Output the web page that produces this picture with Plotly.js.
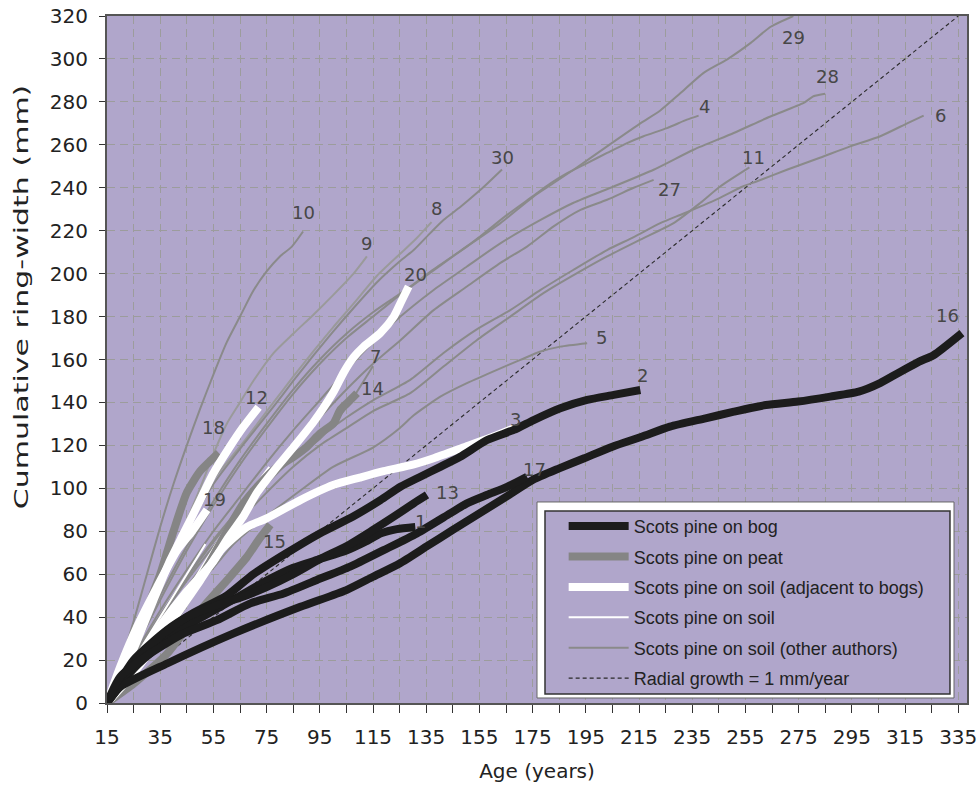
<!DOCTYPE html>
<html><head><meta charset="utf-8">
<script src="https://cdn.plot.ly/plotly-3.0.1.min.js"></script>
<style>html,body{margin:0;padding:0;background:#fff}#chart{width:977px;height:786px}</style>
</head><body><div id="chart"></div>
<script>
// ---------------- DATA (age in years, cumulative ring-width in mm) ----------------
// Scots pine on bog (black thick)
const bog1Age  = [15,25,35,45,55,65,75,85,95,105,112,118,124,130.9];
const bog1Mm   = [0,16,27,36,43,50,57,63,67,71,75,79,81,82];
const bog2Age  = [15,25,37.6,47.6,60,70,82.7,95,107.7,117.8,125.3,132.8,140.3,147.8,157.9,167.9,175.4,185.4,195.5,205.5,215.5];
const bog2Mm   = [0,20,34,42,50,60,70,79,87,94.5,100.7,105.4,110,114.7,122.5,127.2,131.8,137.3,141.2,143.5,145.8];
const bog13Age = [15,25,35,45,55,65,75,85,95,105,115,122.8,130.3,135.3];
const bog13Mm  = [0,18,31,40,45,49,54,60,67,73,80.6,86.8,93,96.9];
const bog16Age = [15,20,37.6,62.6,87.7,105,115,125,135,145,155,165,175,185,194.4,205,216,226.6,240,250.7,262.7,274.8,286.9,297.6,305.6,312.3,320.3,325.7,336.4];
const bog16Mm  = [0,7.5,18.4,32.4,44.8,52.6,58.8,65,72.8,80.6,88.3,96,103.9,109.3,114,119.4,124,128.7,132.6,135.7,138.8,140.4,142.7,145,149,153.6,159,162,172.3];
const bog17Age = [15,20,31.3,43.8,56.3,68.9,81.4,93.9,106.4,119,131.5,144,150.3,158,165.4,172.9];
const bog17Mm  = [0,12.2,23.1,32.4,38.6,46.4,51,57.3,63.5,71.2,79,88.3,93,97,100.7,105.4];
// Scots pine on peat (grey thick)
const peat14Age = [15,25,35,45,53.8,61.4,66.3,71.4,77.6,85.2,90.2,95.2,100.2,102.7,105.2,109];
const peat14Mm  = [0,15,30,48,66,83,93,100.7,108.5,114.7,119.4,125.6,130.3,136.5,139.6,144.3];
const peat15Age = [15,25,37.6,50,60,67.6,72,76.4];
const peat15Mm  = [0,9,23,43,57,68,76,83];
const peat18Age = [15,22.5,28.8,35,40,45,50,54,57];
const peat18Mm  = [0,20,40,60,80,98,108,113,116.5];
// Scots pine on soil adjacent to bogs (white thick)
const adj3Age  = [15,25,37.6,50,57.6,62.6,67.6,75,87.7,100,110,119,130,137.8,150,160,168];
const adj3Mm   = [0,14,35,57,71,77,82,86,94.5,101.5,105,108,111,114,119.5,124,128];
const adj12Age = [15,20,26.3,32.5,38.8,43.8,48.8,55,61,66.3,72];
const adj12Mm  = [0,11,29,48,66.6,79,91.4,107,119,128.7,137.8];
const adj19Age = [15,20,26.3,33.8,41.3,47,52.6];
const adj19Mm  = [0,17,35.5,54,71,80,90];
const adj20Age = [15,25,35,45,55,60,66.3,71.4,77.6,85,92.7,100.2,104,107.7,111.5,117.7,122.8,125.3,128.4];
const adj20Mm  = [0,18,36,52,66,76,87,98,108,119,131,145,154,161,166,172.3,180,186.2,194];
// Scots pine on soil (white thin)
const soilAAge = [15,25,35,45,55,62,70,76];
const soilAMm  = [0,14,32,52,72,86,100,110];
const soilBAge = [15,25,35,45,52];
const soilBMm  = [0,20,40,60,74];
// Scots pine on soil, other authors (grey thin)
const oth4Age  = [15,25,35,45,55,65,75,85,95,105,115,125,135,145,155,165,175,181.6,188,195.5,203,210.5,216.7,225.5,233,237.4];
const oth4Mm   = [0,24,48,71,92,111,128,144,158,170,180,190,199,208,217,227,236,242,246.8,251.5,256.2,260.8,264,267.8,271.7,273.6];
const oth5Age  = [15,25,35,45,55,62.6,75,87.7,100,115,125,130.3,140.3,150.3,161.6,170.4,178,185.4,195.5];
const oth5Mm   = [0,19,36,50,63,74,87,99,110,119,128,134,142.7,149,155.2,159.8,163.7,166,167.6];
const oth6Age  = [15,25,35,45,55,65,75,85,95,105,115,129,141.5,154,166.6,178,190.4,203,213,223,231.8,244,254,259.4,270.6,283,294.4,305.7,315.8,322];
const oth6Mm   = [0,20,39,57,73,88,102,114,124,133,141,150.5,163,174,183,192.4,201.8,211,217,223.5,228,234.5,240.6,243,248.4,254,259.3,264,270,273.6];
const oth7Age  = [15,25,35,45,55,65,75,85,95,100.2,107.7,115];
const oth7Mm   = [0,20,40,58,75,90,103,114,123,130,142.6,157];
const oth8Age  = [15,25,35,45,55,66,77.6,85,92.7,100,107.7,116.5,125,131,137];
const oth8Mm   = [0,28,56,82,104,121,140,152,164,175,186,199,209,216,224];
const oth9Age  = [15,25,35,45,50,55,60,65,70,77.6,85,92.7,100,107.7,112.7];
const oth9Mm   = [0,26,55,85,100,116,130,140,150,163,172,181,190,200,208];
const oth10Age = [15,20,25,30,35,40,45,50,55,60,65,70,75,80,84.5,88.7];
const oth10Mm  = [0,18,38,60,82,102,120,137,153,168,180,192,201,208,212.6,219.6];
const oth11Age = [15,25,35,45,55,65,75,85,95,105,115,129,141.5,154.1,166.6,179.2,191.7,203,215.5,228,238,245.5,256.5];
const oth11Mm  = [0,19,37,54,70,85,98,110,120,128,136,144.3,156.7,169.1,180,191,200.2,208,215.8,223.5,232.9,240.6,249.5];
const oth27Age = [15,25,35,45,55,65,75,85,95,105,115,125.3,137.8,150.3,162.9,172.9,182.9,193,203,213,220.5];
const oth27Mm  = [0,21,41,59,76,91,106,120,133,146,158,169,183,194,205,212.6,222,229.7,234.4,240,243.7];
const oth28Age = [15,25,35,45,55,65,75,85,95,105,115,125.3,137.8,150.3,163,178,190.4,205.5,220.5,235.5,250.6,264.4,276.9,280.6,285];
const oth28Mm  = [0,22,43,62,80,96,112,127,141,155,168,180,192.4,203.3,214.2,225,233,240.6,248.4,257.7,265.5,273.2,279.5,282.6,283.8];
const oth29Age = [15,25,35,45,55,65,75,85,95,105,115,122,129,137.8,150.3,162.9,175.4,182.9,190.4,203,215.5,223,230.5,239.3,248,257,264.5,273];
const oth29Mm  = [0,25,50,73,94,113,130,146,160,172,182,188,194,202,212.6,223.5,236,242.2,248.4,259.3,270,276,284,293.5,299.7,307.5,315,320];
const oth30Age = [15,25,35,45,55,66,77.6,85,92.7,100,107.7,116.5,125.3,130.3,136.6,141.5,147.8,154,158,163.5];
const oth30Mm  = [0,27,54,80,102,120,138,150,162,173,184,196,206,211,219,225,231,237.5,242,248.5];
// Radial growth = 1 mm/year reference
const refAge = [15,335];
const refMm  = [0,320];

const xTicks = [15,35,55,75,95,115,135,155,175,195,215,235,255,275,295,315,335];
const legendNames = ['Scots pine on bog','Scots pine on peat','Scots pine on soil (adjacent to bogs)','Scots pine on soil','Scots pine on soil (other authors)','Radial growth = 1 mm/year'];

// ---------------- BUILD ----------------
const FONT = 'Liberation Sans, Arial, sans-serif';
const WIDE = 'DejaVu Sans, Liberation Sans, sans-serif';
const styles = {
  bog:  {color:'#1c1c1c', width:8, rank:1},
  peat: {color:'#858585', width:8, rank:2},
  adj:  {color:'#ffffff', width:8, rank:3},
  soil: {color:'#ffffff', width:2, rank:4},
  oth:  {color:'#8a8a8a', width:2, rank:5}
};
const groupName = {bog:legendNames[0], peat:legendNames[1], adj:legendNames[2], soil:legendNames[3], oth:legendNames[4]};
const lighter = {'8':'#9a9a9a','9':'#9a9a9a'};

// [group, label, x, y, label dx(px), label dy(px)]
const series = [
  ['oth','4',oth4Age,oth4Mm,6,9],
  ['oth','5',oth5Age,oth5Mm,14,6],
  ['oth','6',oth6Age,oth6Mm,17,0],
  ['oth','7',oth7Age,oth7Mm,2,9],
  ['oth','8',oth8Age,oth8Mm,5,14],
  ['oth','9',oth9Age,oth9Mm,0,13],
  ['oth','10',oth10Age,oth10Mm,0,19],
  ['oth','11',oth11Age,oth11Mm,4,10],
  ['oth','27',oth27Age,oth27Mm,16,-10],
  ['oth','28',oth28Age,oth28Mm,2,17],
  ['oth','29',oth29Age,oth29Mm,0,-21],
  ['oth','30',oth30Age,oth30Mm,0,12],
  ['soil','',soilAAge,soilAMm,0,0],
  ['soil','',soilBAge,soilBMm,0,0],
  ['peat','14',peat14Age,peat14Mm,15,5],
  ['peat','15',peat15Age,peat15Mm,4,-17],
  ['peat','18',peat18Age,peat18Mm,-5,25],
  ['adj','3',adj3Age,adj3Mm,2,9],
  ['adj','12',adj12Age,adj12Mm,-2,10],
  ['adj','19',adj19Age,adj19Mm,7,10],
  ['adj','20',adj20Age,adj20Mm,7,12],
  ['bog','1',bog1Age,bog1Mm,5,5],
  ['bog','2',bog2Age,bog2Mm,2,14],
  ['bog','13',bog13Age,bog13Mm,20,2],
  ['bog','16',bog16Age,bog16Mm,-14,18],
  ['bog','17',bog17Age,bog17Mm,7,7]
];

const traces = [{
  x: refAge, y: refMm, mode:'lines', name: legendNames[5], legendgroup:'ref', legendrank:6,
  line:{color:'#2a2a2a', width:1.1, dash:'4px,3px'}, hoverinfo:'skip'
}];
const seen = {};
const annotations = [];
series.forEach(s => {
  const [g, lab, xs, ys, dx, dy] = s;
  const st = styles[g];
  traces.push({
    x: xs, y: ys, mode:'lines', name: groupName[g], legendgroup: g, legendrank: st.rank,
    showlegend: !seen[g], line:{color: lighter[lab] || st.color, width:st.width, shape:'spline', smoothing:0.6}
  });
  seen[g] = true;
  if (lab) {
    annotations.push({x: xs[xs.length-1], y: ys[ys.length-1], text: lab, showarrow:false,
      xshift: dx, yshift: dy, font:{family:WIDE, size:18, color:'#474747'}});
  }
});

const BG = '#b0a6cb';
const layout = {
  width:977, height:786,
  margin:{l:107, r:10, t:16, b:83},
  paper_bgcolor:'#ffffff', plot_bgcolor:BG,
  font:{family:FONT, size:18, color:'#222'},
  showlegend:true,
  xaxis:{
    range:[15,338.3], tickmode:'array', tickvals:xTicks,
    ticks:'outside', ticklen:8, tickcolor:'#333', tickwidth:1,
    showgrid:true, gridcolor:'#9c9c9c', griddash:'8px,5px', gridwidth:1,
    minor:{tickmode:'linear', tick0:15, dtick:10, ticks:'outside', ticklen:8, tickcolor:'#333', showgrid:true, gridcolor:'#9c9c9c', griddash:'8px,5px', gridwidth:1},
    showline:true, linecolor:'#555', linewidth:2, mirror:true, zeroline:false,
    tickfont:{family:WIDE, size:20, color:'#222'}, ticklabelstandoff:7, ticklabeloverflow:'allow',
    title:{text:'Age (years)', font:{family:WIDE, size:20, color:'#222'}, standoff:16}
  },
  yaxis:{
    range:[0,320], tickmode:'linear', tick0:0, dtick:20,
    ticks:'outside', ticklen:6, tickcolor:'#333',
    showgrid:true, gridcolor:'#9c9c9c', griddash:'8px,5px', gridwidth:1,
    showline:true, linecolor:'#555', linewidth:2, mirror:true, zeroline:false,
    tickfont:{family:WIDE, size:20, color:'#222'}, ticklabelstandoff:7, ticklabeloverflow:'allow',
    title:{text:'Cumulative ring-width (mm)', font:{family:WIDE, size:20, color:'#222'}, standoff:16}
  },
  legend:{
    x:0.531, y:0.284, xanchor:'left', yanchor:'top',
    bgcolor:'rgba(0,0,0,0)', borderwidth:0,
    font:{family:FONT, size:18, color:'#222'},
    itemwidth:60, tracegroupgap:4, traceorder:'grouped'
  },
  shapes:[
    {type:'rect', xref:'paper', yref:'paper', x0:0.5, x1:0.9849, y0:0.0073, y1:0.2926, fillcolor:'#ffffff', line:{color:'#666', width:1}, layer:'above'},
    {type:'rect', xref:'paper', yref:'paper', x0:0.5093, x1:0.9802, y0:0.0131, y1:0.2795, fillcolor:BG, line:{color:'#333', width:1.5}, layer:'above'}
  ],
  annotations: annotations
};

Plotly.newPlot('chart', traces, layout, {displayModeBar:false, staticPlot:true}).then(gd => {
  // stretch the vertical axis title along its length and centre it where the reference has it
  const t = gd.querySelector('.g-ytitle text');
  if (t) {
    const x = parseFloat(t.getAttribute('x')), y = parseFloat(t.getAttribute('y'));
    const len = t.getComputedTextLength();
    const s = 425 / len;
    const targetY = 297;
    t.setAttribute('transform', 'translate(0,' + (targetY - y) + ') rotate(-90,' + x + ',' + y + ') translate(' + x + ',' + y + ') scale(' + s + ',1) translate(' + (-x) + ',' + (-y) + ')');
  }
});
</script>
</body></html>
